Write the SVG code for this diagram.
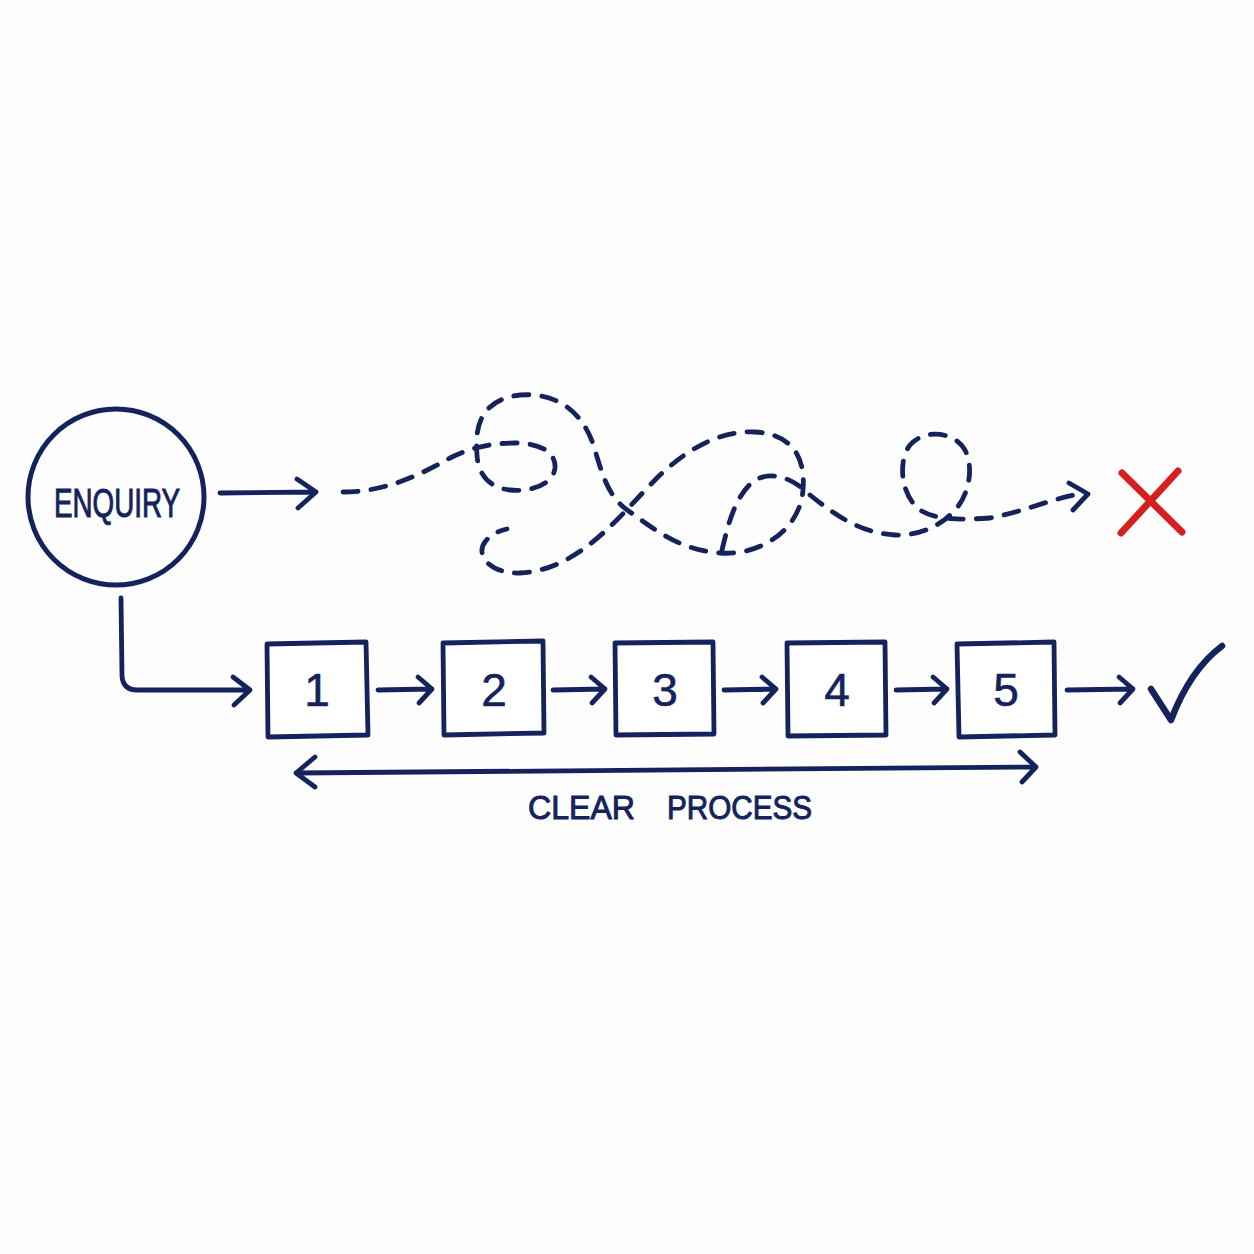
<svg xmlns="http://www.w3.org/2000/svg" width="1254" height="1254" viewBox="0 0 1254 1254">
<style>
.ink{fill:none;stroke:#14235b;stroke-width:4.8;stroke-linecap:round;stroke-linejoin:round}
.dash{fill:none;stroke:#14235b;stroke-width:4.8;stroke-linecap:round;stroke-dasharray:15 13}
.box{fill:#fff;stroke:#14235b;stroke-width:4.8;stroke-linejoin:round}
.num{font-family:"Liberation Sans",Arial,sans-serif;font-size:46px;fill:#14235b;text-anchor:middle;stroke:#14235b;stroke-width:0.6}
.lbl{font-family:"Liberation Sans",Arial,sans-serif;fill:#14235b;stroke:#14235b;stroke-width:1}
</style>
<rect width="1254" height="1254" fill="#fdfdfd"/>
<g id="enquiry">
<circle cx="116" cy="497" r="88" class="ink" style="stroke-width:5"/>
<text x="54" y="517" class="lbl" font-size="40" textLength="126" lengthAdjust="spacingAndGlyphs">ENQUIRY</text>
</g>
<g id="connectors">
<path class="ink" d="M220,493 L316,492 M297,479 L316,492 L298,508"/>
<path class="dash" d="M343,492 C385,492 420,475 450,458 C470,448 490,443 515,443 C540,443 556,452 555,468 C553,485 530,492 510,490 C490,488 478,475 477,455 C475,430 478,400 520,395 C560,392 585,415 595,450 C605,485 612,500 630,512 C655,530 680,550 720,553 C760,556 800,530 803,490 C806,455 790,434 755,432 C715,430 680,455 655,480 C620,515 580,570 520,573 C490,574 475,555 485,542 C490,535 498,531 507,529"/>
<path class="dash" d="M722,550 C728,525 735,495 755,480 C775,470 795,480 810,495 C835,515 860,533 895,535 C920,536 940,525 950,515 C968,500 975,470 965,450 C955,432 925,428 910,445 C898,460 900,495 920,510 C935,520 960,520 990,518 C1030,510 1055,497 1082,494"/>
<path class="ink" d="M1069,483 L1088,494 L1073,510"/>
<path class="ink" d="M121,598 L122,676 Q123,690 137,690 L250,690 M233,677 L250,690 L234,705"/>
<path class="ink" d="M378,690 L432,689 M418,677 L432,689 L419,703"/>
<path class="ink" d="M553,690 L605,689 M591,677 L605,689 L592,703"/>
<path class="ink" d="M724,690 L776,689 M762,677 L776,689 L763,703"/>
<path class="ink" d="M896,690 L947,689 M933,677 L947,689 L934,703"/>
<path class="ink" d="M1067,690 L1133,689 M1119,677 L1133,689 L1120,703"/>
<path class="ink" d="M296,773 L1036,767 M315,757 L296,773 L315,787 M1020,752 L1036,767 L1022,782"/>
</g>
<g id="step1"><path class="box" d="M267,644 L366,642 L368,735 L268,737 Z"/><text x="317" y="706" class="num">1</text></g>
<g id="step2"><path class="box" d="M443,643 L543,641 L544,733 L444,735 Z"/><text x="494" y="706" class="num">2</text></g>
<g id="step3"><path class="box" d="M615,643 L713,642 L714,734 L616,735 Z"/><text x="665" y="706" class="num">3</text></g>
<g id="step4"><path class="box" d="M787,643 L885,642 L886,735 L788,736 Z"/><text x="837" y="706" class="num">4</text></g>
<g id="step5"><path class="box" d="M957,644 L1054,642 L1055,735 L959,737 Z"/><text x="1006" y="706" class="num">5</text></g>
<g id="fail"><path d="M1122,473 L1182,532 M1178,471 L1121,533" fill="none" stroke="#d61f1f" stroke-width="7" stroke-linecap="round"/></g>
<g id="success"><path d="M1151,689 L1171,720 Q1190,670 1222,646" fill="none" stroke="#14235b" stroke-width="6.5" stroke-linecap="round" stroke-linejoin="round"/></g>
<g id="clear-process"><text class="lbl" font-size="34" y="819"><tspan x="528" textLength="107" lengthAdjust="spacingAndGlyphs">CLEAR</tspan><tspan x="667" textLength="145" lengthAdjust="spacingAndGlyphs">PROCESS</tspan></text></g>
</svg>
